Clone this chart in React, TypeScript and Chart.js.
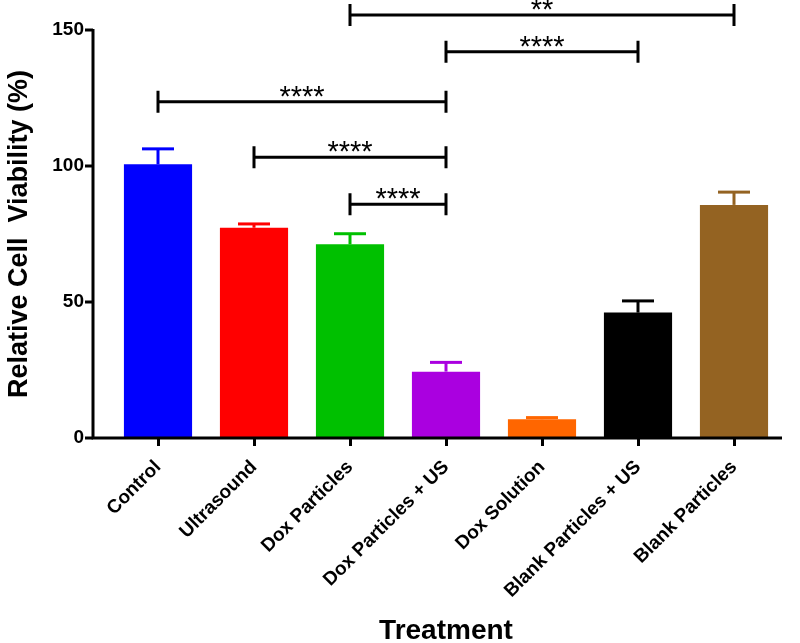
import React, { useEffect, useRef } from 'react';
import { Chart, registerables } from 'chart.js';

Chart.register(...registerables);

const categories = ['Control', 'Ultrasound', 'Dox Particles', 'Dox Particles + US', 'Dox Solution', 'Blank Particles + US', 'Blank Particles'];
const viability = [100.6, 77.3, 71.2, 24.4, 6.9, 46.1, 85.7];
const errors = [5.7, 1.4, 3.9, 3.4, 0.6, 4.3, 4.7];
const barColors = ['#0000FF', '#FF0000', '#00C000', '#AA00E0', '#FF6600', '#000000', '#946322'];
const yTicks = [0, 50, 100, 150];
const sigFrom = [2, 3, 0, 1, 2];
const sigTo = [6, 5, 3, 3, 3];
const sigLevel = [155.5, 142, 123.6, 103.2, 85.9];
const sigLabels = ['**', '****', '****', '****', '****'];

const FONT = '"Liberation Sans", Arial, sans-serif';
const AXIS_GAP = 17;

const overlay = {
  id: 'overlay',
  afterDatasetsDraw(chart: any) {
    const { ctx, chartArea } = chart;
    const x = chart.scales.x;
    const y = chart.scales.y;
    ctx.save();
    // error bars
    const meta = chart.getDatasetMeta(0);
    meta.data.forEach((bar: any, i: number) => {
      const cx = bar.x;
      const yTop = y.getPixelForValue(viability[i]);
      const yErr = y.getPixelForValue(viability[i] + errors[i]);
      ctx.strokeStyle = barColors[i];
      ctx.lineWidth = 3;
      ctx.lineCap = 'butt';
      ctx.beginPath();
      ctx.moveTo(cx, yTop);
      ctx.lineTo(cx, yErr);
      ctx.stroke();
      ctx.beginPath();
      ctx.moveTo(cx - 16, yErr);
      ctx.lineTo(cx + 16, yErr);
      ctx.stroke();
    });
    // axes
    const ax = chartArea.left - AXIS_GAP;
    ctx.strokeStyle = '#000';
    ctx.lineWidth = 3;
    ctx.lineJoin = 'miter';
    ctx.beginPath();
    ctx.moveTo(ax, y.getPixelForValue(150) - 1);
    ctx.lineTo(ax, chartArea.bottom);
    ctx.lineTo(chartArea.right, chartArea.bottom);
    ctx.stroke();
    yTicks.forEach((v) => {
      const py = y.getPixelForValue(v);
      ctx.beginPath();
      ctx.moveTo(ax - 8, py);
      ctx.lineTo(ax, py);
      ctx.stroke();
    });
    // significance brackets
    ctx.fillStyle = '#000';
    ctx.font = '29px ' + FONT;
    ctx.textAlign = 'center';
    ctx.textBaseline = 'alphabetic';
    sigFrom.forEach((f, i) => {
      const x1 = x.getPixelForValue(f);
      const x2 = x.getPixelForValue(sigTo[i]);
      const py = y.getPixelForValue(sigLevel[i]);
      ctx.beginPath();
      ctx.moveTo(x1, py);
      ctx.lineTo(x2, py);
      ctx.moveTo(x1, py - 11);
      ctx.lineTo(x1, py + 11);
      ctx.moveTo(x2, py - 11);
      ctx.lineTo(x2, py + 11);
      ctx.stroke();
      ctx.fillText(sigLabels[i], (x1 + x2) / 2, py + 4);
    });
    ctx.restore();
  },
};

export default function App() {
  const ref = useRef<HTMLCanvasElement>(null);
  useEffect(() => {
    const chart = new Chart(ref.current as HTMLCanvasElement, {
      type: 'bar',
      data: {
        labels: categories,
        datasets: [
          {
            data: viability,
            backgroundColor: barColors,
            borderWidth: 0,
            barPercentage: 0.71,
            categoryPercentage: 1,
          },
        ],
      },
      options: {
        responsive: false,
        animation: false,
        devicePixelRatio: 1,
        layout: { padding: { left: 0, right: 18, top: 30, bottom: 0 } },
        plugins: { legend: { display: false }, tooltip: { enabled: false } },
        scales: {
          x: {
            grid: {
              display: true,
              drawOnChartArea: false,
              drawTicks: true,
              tickLength: 8,
              tickWidth: 3,
              tickColor: '#000',
              offset: false,
            },
            border: { display: false },
            ticks: {
              maxRotation: 45,
              minRotation: 45,
              autoSkip: false,
              color: '#000',
              padding: 10,
              font: { family: FONT, size: 19, weight: 'bold' },
            },
            title: {
              display: true,
              text: 'Treatment',
              color: '#000',
              font: { family: FONT, size: 28, weight: 'bold' },
              padding: { top: 0, bottom: -5 },
            },
            afterFit: (s: any) => {
              s.height = 205;
            },
          },
          y: {
            min: 0,
            max: 150,
            afterBuildTicks: (s: any) => {
              s.ticks = yTicks.map((v) => ({ value: v }));
            },
            grid: { display: false, drawTicks: false },
            border: { display: false },
            ticks: {
              color: '#000',
              padding: 26,
              font: { family: FONT, size: 19, weight: 'bold' },
            },
            title: {
              display: true,
              text: 'Relative Cell  Viability (%)',
              color: '#000',
              font: { family: FONT, size: 27, weight: 'bold' },
              padding: { top: 3, bottom: 0 },
            },
            afterFit: (s: any) => {
              s.width = 110;
              s.paddingTop = 0;
              s.paddingBottom = 0;
            },
          },
        },
      },
      plugins: [overlay],
    } as any);
    return () => chart.destroy();
  }, []);
  return (
    <div style={{ position: 'fixed', left: 0, top: 0, width: 800, height: 643, background: '#fff' }}>
      <canvas ref={ref} width={800} height={643} style={{ width: 800, height: 643, display: 'block' }} />
    </div>
  );
}
